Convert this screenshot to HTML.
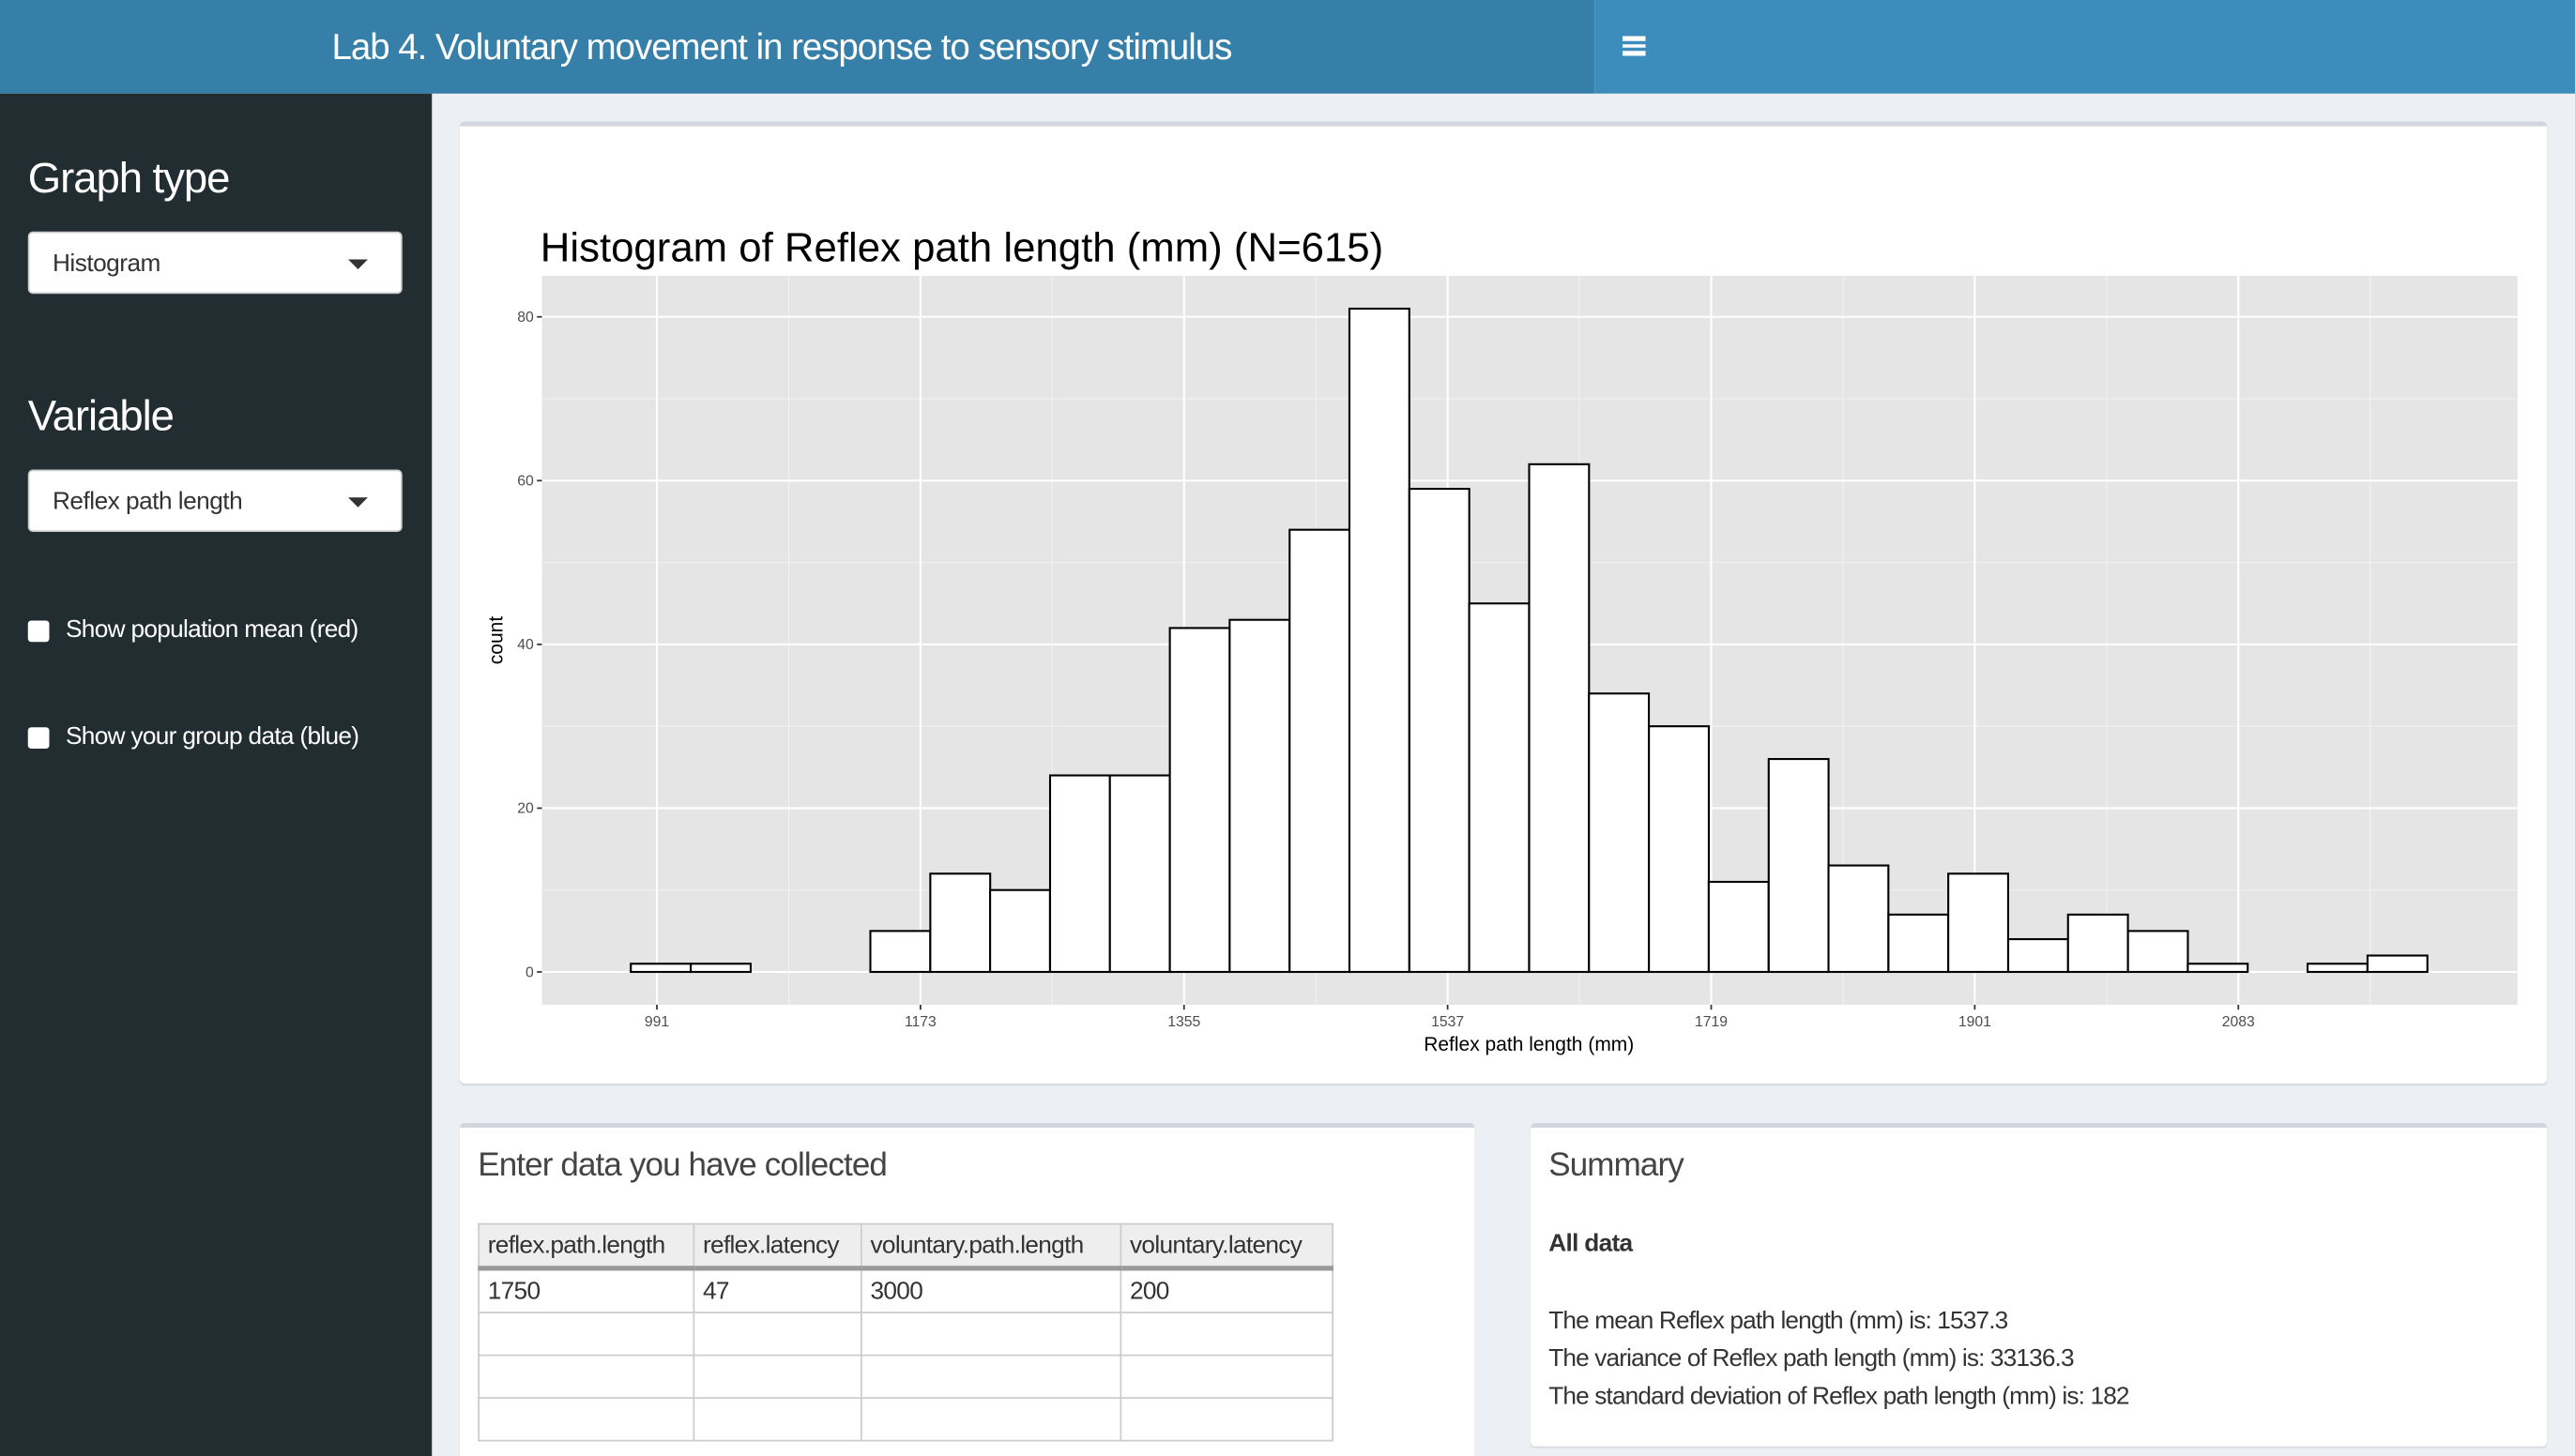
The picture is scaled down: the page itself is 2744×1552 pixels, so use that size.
<!DOCTYPE html>
<html><head><meta charset="utf-8">
<style>
html,body{margin:0;padding:0;width:2744px;height:1552px;overflow:hidden;background:#ecf0f5}
#page{position:absolute;left:0;top:0;width:1568px;height:887px;transform:scale(1.75);transform-origin:0 0;font-family:"Liberation Sans",sans-serif;background:#ecf0f5;overflow:hidden}
.abs{position:absolute}
.sel{position:absolute;left:17px;width:228px;height:38px;background:#fff;border:1px solid #ccc;border-radius:3px;box-sizing:border-box;font-size:15px;color:#333;padding:10px 14px;letter-spacing:-0.3px}
.sel .caret{position:absolute;right:20px;top:16px;width:0;height:0;border-left:6px solid transparent;border-right:6px solid transparent;border-top:6px solid #333}
.cb{position:absolute;left:17px;width:13px;height:13px;background:#fff;border-radius:2px}
.cbl{position:absolute;left:40px;color:#fff;font-size:15px;letter-spacing:-0.4px}
.box{position:absolute;background:#fff;border-top:3px solid #d2d6de;border-radius:3px;box-sizing:border-box;box-shadow:0 1px 1px rgba(0,0,0,0.1)}
table{border-collapse:collapse;font-size:15px;color:#333;letter-spacing:-0.4px}
td,th{border:1px solid #ccc;height:25px;padding:0 5px;text-align:left;font-weight:normal;white-space:nowrap}
th{background:#eee;border-bottom:3px solid #999}
</style></head><body>
<div id="page">
  <div class="abs" style="left:0;top:0;width:971px;height:57px;background:#367fa9"></div>
  <div class="abs" style="left:971px;top:0;width:597px;height:57px;background:#3c8dbc"></div>
  <div class="abs" style="left:202px;top:16px;color:#fff;font-size:22px;font-weight:300;letter-spacing:-0.6px">Lab 4. Voluntary movement in response to sensory stimulus</div>
  <div class="abs" style="left:988px;top:22px;width:14px;height:12px">
    <div class="abs" style="left:0;top:0;width:14px;height:2.5px;background:#fff"></div>
    <div class="abs" style="left:0;top:4.5px;width:14px;height:2.5px;background:#fff"></div>
    <div class="abs" style="left:0;top:9px;width:14px;height:2.5px;background:#fff"></div>
  </div>
  <div class="abs" style="left:0;top:57px;width:263px;height:830px;background:#222d32"></div>
  <div class="abs" style="left:17px;top:93px;color:#fff;font-size:26px;letter-spacing:-0.6px">Graph type</div>
  <div class="sel" style="top:141px">Histogram<span class="caret"></span></div>
  <div class="abs" style="left:17px;top:238px;color:#fff;font-size:26px;letter-spacing:-0.6px">Variable</div>
  <div class="sel" style="top:286px">Reflex path length<span class="caret"></span></div>
  <div class="cb" style="top:378px"></div>
  <div class="cbl" style="top:375px">Show population mean (red)</div>
  <div class="cb" style="top:443px"></div>
  <div class="cbl" style="top:440px">Show your group data (blue)</div>

  <div class="box" style="left:280px;top:74px;width:1271px;height:586px"></div>
  <svg class="abs" id="chart" style="left:0;top:0" width="1568" height="887"></svg>

  <div class="box" style="left:280px;top:684px;width:618px;height:210px">
    <div class="abs" style="left:11px;top:12px;font-size:20px;color:#444;letter-spacing:-0.5px">Enter data you have collected</div>
    <table class="abs" style="left:11px;top:58px">
      <tr><th style="width:120px">reflex.path.length</th><th style="width:91px">reflex.latency</th><th style="width:147px">voluntary.path.length</th><th style="width:118px">voluntary.latency</th></tr>
      <tr><td>1750</td><td>47</td><td>3000</td><td>200</td></tr>
      <tr><td></td><td></td><td></td><td></td></tr>
      <tr><td></td><td></td><td></td><td></td></tr>
      <tr><td></td><td></td><td></td><td></td></tr>
    </table>
  </div>
  <div class="box" style="left:932px;top:684px;width:619px;height:197px">
    <div class="abs" style="left:11px;top:12px;font-size:20px;color:#444;letter-spacing:-0.5px">Summary</div>
    <div class="abs" style="left:11px;top:62px;font-size:15px;font-weight:bold;color:#333;letter-spacing:-0.4px">All data</div>
    <div class="abs" style="left:11px;top:106px;font-size:15px;color:#333;line-height:23px;letter-spacing:-0.5px">The mean Reflex path length (mm) is: 1537.3<br>The variance of Reflex path length (mm) is: 33136.3<br>The standard deviation of Reflex path length (mm) is: 182</div>
  </div>
</div>
<script>
const binStarts = [973,1014.4,1055.7,1097.1,1138.4,1179.8,1221.1,1262.5,1303.8,1345.2,1386.5,1427.9,1469.2,1510.6,1551.9,1593.3,1634.6,1676,1717.3,1758.7,1800,1841.4,1882.7,1924.1,1965.4,2006.8,2048.1,2089.5,2130.8,2172.2];
const counts = [1,1,0,0,5,12,10,24,24,42,43,54,81,59,45,62,34,30,11,26,13,7,12,4,7,5,1,0,1,2];
const binWidth = 41.35;
const xTicks = [991,1173,1355,1537,1719,1901,2083];
const yTicks = [0,20,40,60,80];

const NS='http://www.w3.org/2000/svg';
const svg=document.getElementById('chart');
const PL=330,PR=1533,PT=168,PB=612;
function X(v){return 400+(v-991)*(963/1092);}
function Y(v){return 592-v*(399/80);}
function mk(tag,attrs,parent){const e=document.createElementNS(NS,tag);for(const k in attrs)e.setAttribute(k,attrs[k]);(parent||svg).appendChild(e);return e;}

const title=mk('text',{x:329,y:159,'font-size':25,fill:'#000','font-family':'Liberation Sans, sans-serif'});
title.textContent='Histogram of Reflex path length (mm) (N=615)';


const panel=mk('rect',{x:PL,y:PT,width:PR-PL,height:PB-PT,fill:'#e5e5e5'});


// minor grid
for(let i=0;i<=xTicks.length;i++){const m=(i<xTicks.length?xTicks[i]:xTicks[i-1]+182)-91;const x=X(m);if(x>PL&&x<PR)mk('line',{x1:x,x2:x,y1:PT,y2:PB,stroke:'#f2f2f2','stroke-width':0.6});}
for(let i=0;i<yTicks.length;i++){const y=Y(yTicks[i]+10);if(y>PT)mk('line',{x1:PL,x2:PR,y1:y,y2:y,stroke:'#f2f2f2','stroke-width':0.6});}
// major grid + ticks
xTicks.forEach(t=>{const x=X(t);
  mk('line',{x1:x,x2:x,y1:PT,y2:PB,stroke:'#fff','stroke-width':1.2});
  mk('line',{x1:x,x2:x,y1:PB,y2:PB+3,stroke:'#333','stroke-width':1});
  const l=mk('text',{x:x,y:PB+13,'font-size':9,'text-anchor':'middle',fill:'#4d4d4d','font-family':'Liberation Sans, sans-serif'});l.textContent=t;
  
  
});
yTicks.forEach(t=>{const y=Y(t);
  mk('line',{x1:PL,x2:PR,y1:y,y2:y,stroke:'#fff','stroke-width':1.2});
  mk('line',{x1:PL-3,x2:PL,y1:y,y2:y,stroke:'#333','stroke-width':1});
  const l=mk('text',{x:PL-5,y:y+3,'font-size':9,'text-anchor':'end',fill:'#4d4d4d','font-family':'Liberation Sans, sans-serif'});l.textContent=t;
  
  
});
// bars
counts.forEach((c,i)=>{const x0=X(binStarts[i]),x1=X(binStarts[i]+binWidth);
  const r=mk('rect',{x:x0,y:Y(c),width:x1-x0,height:Y(0)-Y(c),fill:'#fff',stroke:'#000','stroke-width':1.2});
  
  
});
const xt=mk('text',{x:931,y:640,'font-size':12,'text-anchor':'middle',fill:'#000','font-family':'Liberation Sans, sans-serif'});xt.textContent='Reflex path length (mm)';


const yt=mk('text',{x:0,y:0,'font-size':12,'text-anchor':'middle',fill:'#000','font-family':'Liberation Sans, sans-serif',transform:'translate(306,390) rotate(-90)'});yt.textContent='count';


</script>
</body></html>
